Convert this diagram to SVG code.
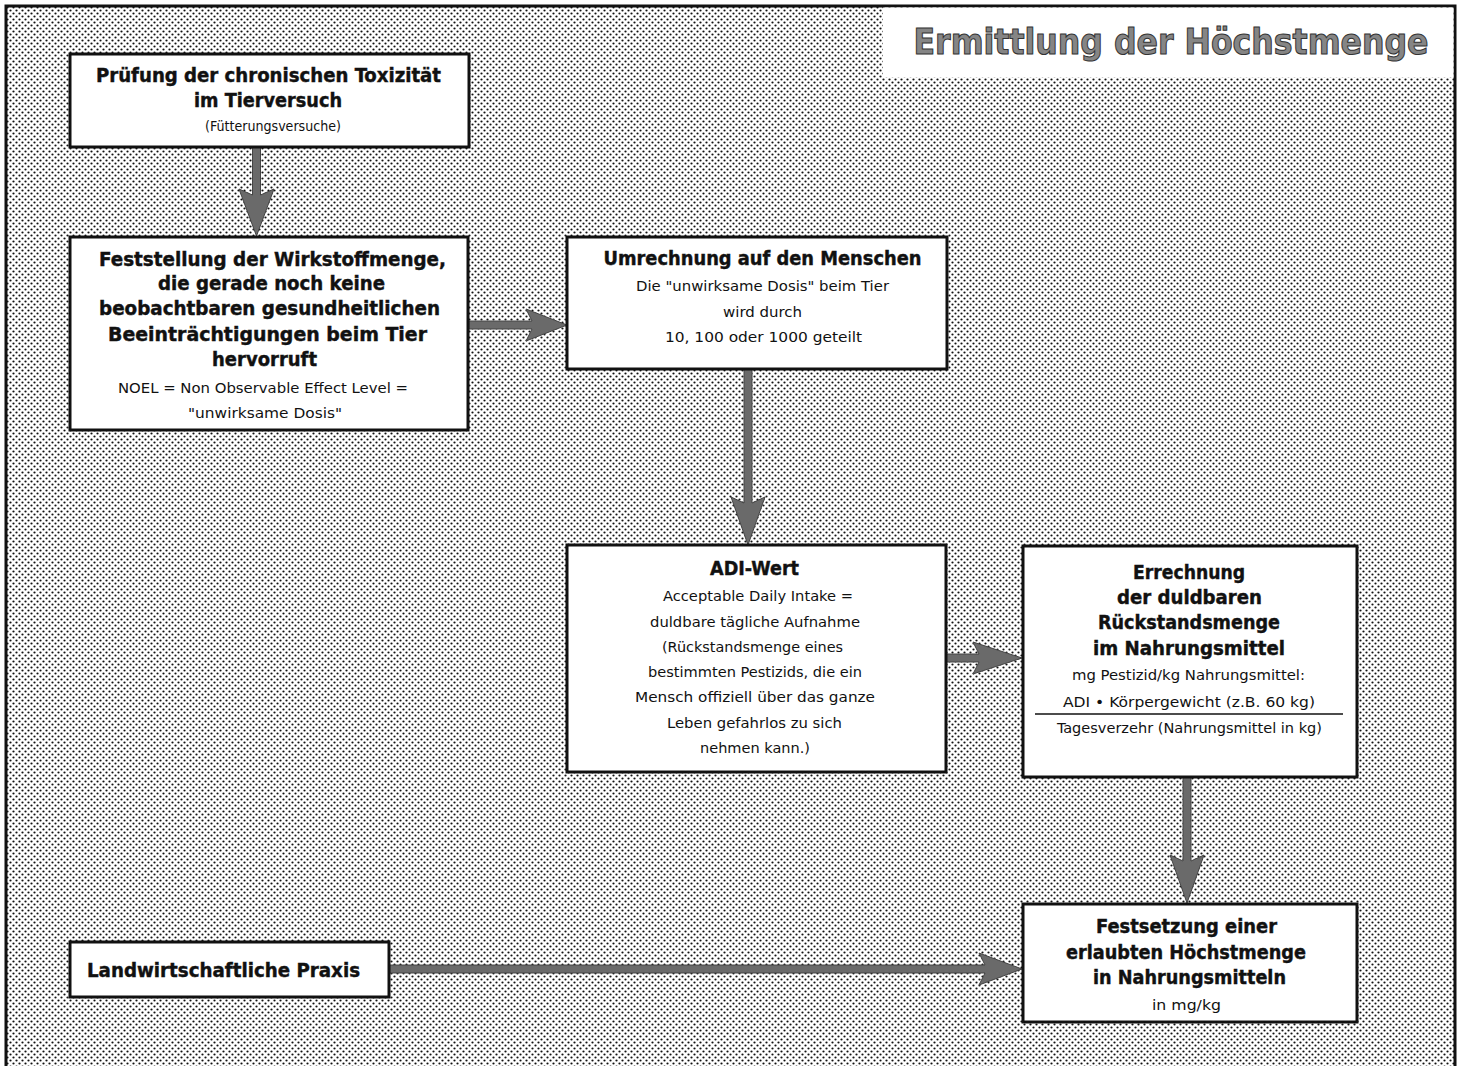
<svg xmlns="http://www.w3.org/2000/svg" width="1463" height="1066" viewBox="0 0 1463 1066">
<defs>
<pattern id="dots" width="6" height="6" patternUnits="userSpaceOnUse">
<rect width="6" height="6" fill="#ffffff"/>
<circle cx="1.5" cy="1.5" r="1.1" fill="#111"/>
<circle cx="4.5" cy="4.5" r="1.1" fill="#111"/>
</pattern>
<style>
.box{fill:#fff;stroke:#111;stroke-width:3}
.b{font-family:"DejaVu Sans Condensed","DejaVu Sans","Liberation Sans",sans-serif;font-weight:bold;font-size:19.5px;fill:#111;stroke:#111;stroke-width:0.4;text-anchor:middle}
.s{font-family:"DejaVu Sans Condensed","DejaVu Sans","Liberation Sans",sans-serif;font-size:14.5px;fill:#111;text-anchor:middle}
.arr{fill:#6a6a6a;stroke:#444;stroke-width:1}
.title{font-family:"DejaVu Sans Condensed","DejaVu Sans","Liberation Sans",sans-serif;font-weight:bold;font-size:36px;fill:#858585;stroke:#333;stroke-width:1}
</style>
</defs>
<rect x="0" y="0" width="1463" height="1066" fill="#fff"/>
<rect x="6" y="6" width="1449" height="1060" fill="url(#dots)"/>
<path d="M6,1066 V6 H1455 V1066" fill="none" stroke="#111" stroke-width="3"/>
<g id="title">
<rect x="883" y="7.5" width="570.5" height="70" fill="#fff"/>
<text class="title" x="1171" y="54" text-anchor="middle" textLength="515" lengthAdjust="spacingAndGlyphs">Ermittlung der Höchstmenge</text>
</g>
<g id="connectors">
<path class="arr" d="M252.5,147 V195 L239,189 L256.5,236 L274,189 L260.5,195 V147 Z"/>
<path class="arr" d="M469,321 H532 L526,309 L567,325 L526,341 L532,329 H469 Z"/>
<path class="arr" d="M744,369 V503 L731,497 L748,545 L765,497 L752,503 V369 Z"/>
<path class="arr" d="M946,654 H979 L973,642 L1022,658 L973,674 L979,662 H946 Z"/>
<path class="arr" d="M1183,777 V861 L1170,855 L1187,903 L1204,855 L1191,861 V777 Z"/>
<path class="arr" d="M389,965 H985 L979,953 L1022,969 L979,985 L985,973 H389 Z"/>
</g>
<g id="node-pruefung">
<rect class="box" x="70" y="54" width="399" height="93"/>
<text class="b" x="268.5" y="82" textLength="345" lengthAdjust="spacingAndGlyphs">Prüfung der chronischen Toxizität</text>
<text class="b" x="268" y="107" textLength="148" lengthAdjust="spacingAndGlyphs">im Tierversuch</text>
<text class="s" x="273" y="131" font-size="13" textLength="136" lengthAdjust="spacingAndGlyphs">(Fütterungsversuche)</text>
</g>
<g id="node-feststellung">
<rect class="box" x="70" y="237" width="398" height="193"/>
<text class="b" x="272.5" y="266" textLength="347" lengthAdjust="spacingAndGlyphs">Feststellung der Wirkstoffmenge,</text>
<text class="b" x="271.5" y="290" textLength="227" lengthAdjust="spacingAndGlyphs">die gerade noch keine</text>
<text class="b" x="269.5" y="315" textLength="341" lengthAdjust="spacingAndGlyphs">beobachtbaren gesundheitlichen</text>
<text class="b" x="267.5" y="341" textLength="319" lengthAdjust="spacingAndGlyphs">Beeinträchtigungen beim Tier</text>
<text class="b" x="264.5" y="366" textLength="105" lengthAdjust="spacingAndGlyphs">hervorruft</text>
<text class="s" x="263" y="393" textLength="290" lengthAdjust="spacingAndGlyphs">NOEL = Non Observable Effect Level =</text>
<text class="s" x="265" y="418" textLength="154" lengthAdjust="spacingAndGlyphs">"unwirksame Dosis"</text>
</g>
<g id="node-umrechnung">
<rect class="box" x="567" y="237" width="380" height="132"/>
<text class="b" x="762.5" y="265" textLength="318" lengthAdjust="spacingAndGlyphs">Umrechnung auf den Menschen</text>
<text class="s" x="762.5" y="291" textLength="253" lengthAdjust="spacingAndGlyphs">Die "unwirksame Dosis" beim Tier</text>
<text class="s" x="762.5" y="317" textLength="79" lengthAdjust="spacingAndGlyphs">wird durch</text>
<text class="s" x="763.5" y="342" textLength="197" lengthAdjust="spacingAndGlyphs">10, 100 oder 1000 geteilt</text>
</g>
<g id="node-adi">
<rect class="box" x="567" y="545" width="379" height="227"/>
<text class="b" x="754.5" y="575" textLength="89" lengthAdjust="spacingAndGlyphs">ADI-Wert</text>
<text class="s" x="758" y="601" textLength="190" lengthAdjust="spacingAndGlyphs">Acceptable Daily Intake =</text>
<text class="s" x="755" y="627" textLength="210" lengthAdjust="spacingAndGlyphs">duldbare tägliche Aufnahme</text>
<text class="s" x="752.5" y="652" textLength="181" lengthAdjust="spacingAndGlyphs">(Rückstandsmenge eines</text>
<text class="s" x="755" y="677" textLength="214" lengthAdjust="spacingAndGlyphs">bestimmten Pestizids, die ein</text>
<text class="s" x="755" y="702" textLength="240" lengthAdjust="spacingAndGlyphs">Mensch offiziell über das ganze</text>
<text class="s" x="754.5" y="728" textLength="175" lengthAdjust="spacingAndGlyphs">Leben gefahrlos zu sich</text>
<text class="s" x="755" y="753" textLength="110" lengthAdjust="spacingAndGlyphs">nehmen kann.)</text>
</g>
<g id="node-errechnung">
<rect class="box" x="1023" y="546" width="334" height="231"/>
<text class="b" x="1189" y="579" textLength="112" lengthAdjust="spacingAndGlyphs">Errechnung</text>
<text class="b" x="1189.5" y="604" textLength="145" lengthAdjust="spacingAndGlyphs">der duldbaren</text>
<text class="b" x="1189" y="629" textLength="182" lengthAdjust="spacingAndGlyphs">Rückstandsmenge</text>
<text class="b" x="1189" y="655" textLength="192" lengthAdjust="spacingAndGlyphs">im Nahrungsmittel</text>
<text class="s" x="1188.5" y="680" textLength="233" lengthAdjust="spacingAndGlyphs">mg Pestizid/kg Nahrungsmittel:</text>
<text class="s" x="1189" y="707" textLength="252" lengthAdjust="spacingAndGlyphs">ADI • Körpergewicht (z.B. 60 kg)</text>
<line x1="1035" y1="714" x2="1343" y2="714" stroke="#111" stroke-width="1.5"/>
<text class="s" x="1189.5" y="733" textLength="265" lengthAdjust="spacingAndGlyphs">Tagesverzehr (Nahrungsmittel in kg)</text>
</g>
<g id="node-festsetzung">
<rect class="box" x="1023" y="904" width="334" height="118"/>
<text class="b" x="1186.5" y="933" textLength="181" lengthAdjust="spacingAndGlyphs">Festsetzung einer</text>
<text class="b" x="1186" y="959" textLength="240" lengthAdjust="spacingAndGlyphs">erlaubten Höchstmenge</text>
<text class="b" x="1189.5" y="984" textLength="193" lengthAdjust="spacingAndGlyphs">in Nahrungsmitteln</text>
<text class="s" x="1186.5" y="1010" textLength="69" lengthAdjust="spacingAndGlyphs">in mg/kg</text>
</g>
<g id="node-praxis">
<rect class="box" x="70" y="942" width="319" height="55"/>
<text class="b" x="223.5" y="977" textLength="273" lengthAdjust="spacingAndGlyphs">Landwirtschaftliche Praxis</text>
</g>
</svg>
